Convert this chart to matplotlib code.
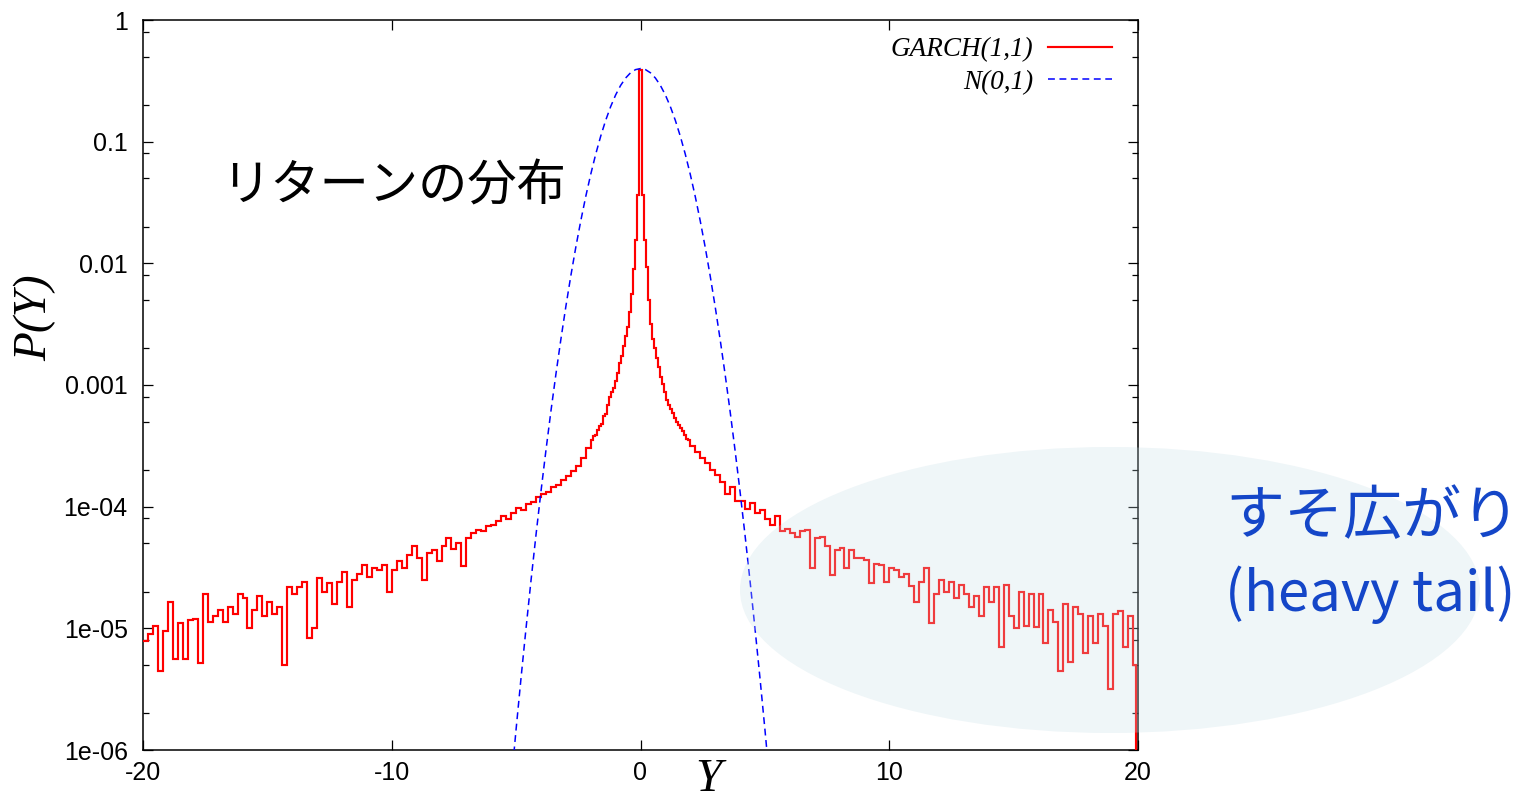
import numpy as np
import matplotlib
matplotlib.use("Agg")
import matplotlib.pyplot as plt
from matplotlib import ticker
from matplotlib.patches import Ellipse

plt.rcParams['font.family'] = ['Liberation Sans', 'DejaVu Sans']
plt.rcParams['axes.unicode_minus'] = False

# ---------------- data ----------------
# GARCH(1,1) histogram: bin edges (tails 0.2 wide, core 0.08 wide)
left_tail_edges = np.round(np.linspace(-20.0, -2.0, 91), 3)
core_edges = np.round(np.linspace(-2.0, 2.0, 51), 3)
right_tail_edges = np.round(np.concatenate([np.linspace(2.0, 19.8, 90), [19.9, 20.0]]), 3)

left_tail_p = [
    7.9e-6, 8.9e-6, 1.05e-5, 4.5e-6, 9.5e-6,
    1.66e-5, 5.6e-6, 1.1e-5, 5.6e-6, 1.17e-5,
    1.2e-5, 5.2e-6, 1.9e-5, 1.12e-5, 1.26e-5,
    1.41e-5, 1.12e-5, 1.51e-5, 1.32e-5, 1.9e-5,
    1.78e-5, 1.0e-5, 1.41e-5, 1.86e-5, 1.26e-5,
    1.66e-5, 1.32e-5, 1.51e-5, 5.0e-6, 2.19e-5,
    1.9e-5, 2.19e-5, 2.4e-5, 8.3e-6, 1.0e-5,
    2.57e-5, 2.0e-5, 2.34e-5, 1.58e-5, 2.4e-5,
    2.88e-5, 1.51e-5, 2.51e-5, 2.82e-5, 3.31e-5,
    2.63e-5, 3.16e-5, 3.02e-5, 3.31e-5, 2.0e-5,
    3.02e-5, 3.55e-5, 3.16e-5, 3.98e-5, 4.79e-5,
    3.8e-5, 2.51e-5, 4.17e-5, 4.37e-5, 3.55e-5,
    4.79e-5, 5.5e-5, 4.47e-5, 5.0e-5, 3.24e-5,
    5.5e-5, 6.03e-5, 6.46e-5, 6.31e-5, 6.92e-5,
    7.08e-5, 7.59e-5, 8.32e-5, 7.94e-5, 8.91e-5,
    9.77e-5, 9.33e-5, 1.05e-4, 1.1e-4, 1.2e-4,
    1.26e-4, 1.32e-4, 1.45e-4, 1.51e-4, 1.66e-4,
    1.78e-4, 1.95e-4, 2.14e-4, 2.51e-4, 3.02e-4,
]
core_p = [
    3.55e-4, 3.8e-4, 3.9e-4, 4.27e-4, 4.57e-4, 4.8e-4, 5.6e-4, 5.8e-4, 6.8e-4, 7.9e-4,
    8.7e-4, 9.5e-4, 1.07e-3, 1.26e-3, 1.51e-3, 1.74e-3, 2.09e-3, 2.51e-3, 3.02e-3, 3.98e-3,
    5.6e-3, 8.9e-3, 1.55e-2, 3.63e-2, 0.389,
    0.389, 3.63e-2, 1.55e-2, 9.3e-3, 5.0e-3, 3.16e-3, 2.4e-3, 2.0e-3, 1.66e-3, 1.41e-3,
    1.17e-3, 1.02e-3, 8.7e-4, 7.6e-4, 6.9e-4, 6.3e-4, 5.9e-4, 5.4e-4, 5.0e-4, 4.7e-4,
    4.4e-4, 4.2e-4, 3.9e-4, 3.6e-4, 3.5e-4,
]
right_tail_p = [
    3.16e-4, 2.82e-4, 2.51e-4, 2.29e-4, 2.0e-4,
    1.82e-4, 1.58e-4, 1.26e-4, 1.45e-4, 1.12e-4,
    1.12e-4, 9.55e-5, 1.07e-4, 8.91e-5, 9.33e-5,
    7.94e-5, 7.08e-5, 8.32e-5, 6.31e-5, 6.61e-5,
    6.03e-5, 5.62e-5, 6.31e-5, 6.46e-5, 3.16e-5,
    5.5e-5, 5.62e-5, 4.79e-5, 2.75e-5, 4.37e-5,
    4.57e-5, 3.16e-5, 4.37e-5, 3.8e-5, 3.8e-5,
    3.63e-5, 2.34e-5, 3.39e-5, 3.31e-5, 2.4e-5,
    3.16e-5, 3.02e-5, 2.63e-5, 2.82e-5, 2.24e-5,
    1.66e-5, 2.4e-5, 3.16e-5, 1.1e-5, 1.9e-5,
    2.51e-5, 2.0e-5, 2.4e-5, 1.78e-5, 2.29e-5,
    1.9e-5, 1.51e-5, 1.86e-5, 1.26e-5, 2.19e-5,
    1.66e-5, 2.19e-5, 7.08e-6, 2.29e-5, 1.26e-5,
    1.0e-5, 2.0e-5, 1.05e-5, 1.9e-5, 1.02e-5,
    1.9e-5, 7.59e-6, 1.41e-5, 1.12e-5, 4.47e-6,
    1.58e-5, 5.25e-6, 1.51e-5, 1.32e-5, 6.31e-6,
    1.26e-5, 7.59e-6, 1.32e-5, 1.05e-5, 3.16e-6,
    1.32e-5, 1.38e-5, 7.08e-6, 1.26e-5,
    5.0e-6, 0.0,
]

# N(0,1) density sampled along Y
normal_y = [-5.4, -5.2, -5.0, -4.8, -4.6, -4.4, -4.2, -4.0, -3.8, -3.6, -3.4, -3.2, -3.0,
            -2.8, -2.6, -2.4, -2.2, -2.0, -1.8, -1.6, -1.4, -1.2, -1.0, -0.8, -0.6, -0.4,
            -0.2, 0.0, 0.2, 0.4, 0.6, 0.8, 1.0, 1.2, 1.4, 1.6, 1.8, 2.0, 2.2, 2.4, 2.6,
            2.8, 3.0, 3.2, 3.4, 3.6, 3.8, 4.0, 4.2, 4.4, 4.6, 4.8, 5.0, 5.2, 5.4]
normal_p = [1.86e-7, 5.36e-7, 1.49e-6, 3.96e-6, 1.01e-5, 2.49e-5, 5.89e-5, 1.34e-4,
            2.92e-4, 6.12e-4, 1.23e-3, 2.38e-3, 4.43e-3, 7.92e-3, 1.36e-2, 2.24e-2,
            3.55e-2, 5.40e-2, 7.90e-2, 0.1109, 0.1497, 0.1942, 0.2420, 0.2897, 0.3332,
            0.3683, 0.3910, 0.3989, 0.3910, 0.3683, 0.3332, 0.2897, 0.2420, 0.1942,
            0.1497, 0.1109, 7.90e-2, 5.40e-2, 3.55e-2, 2.24e-2, 1.36e-2, 7.92e-3,
            4.43e-3, 2.38e-3, 1.23e-3, 6.12e-4, 2.92e-4, 1.34e-4, 5.89e-5, 2.49e-5,
            1.01e-5, 3.96e-6, 1.49e-6, 5.36e-7, 1.86e-7]

x_ticks = [-20, -10, 0, 10, 20]
y_ticks = [1e-6, 1e-5, 1e-4, 1e-3, 1e-2, 1e-1, 1]
y_tick_labels = ["1e-06", "1e-05", "1e-04", "0.001", "0.01", "0.1", "1"]

garch_edges = np.concatenate([left_tail_edges, core_edges[1:], right_tail_edges[1:]])
garch_p = np.array(left_tail_p + core_p + right_tail_p)

# ---------------- figure ----------------
W, H = 1522, 798
fig = plt.figure(figsize=(W / 100, H / 100), dpi=100)
ax = fig.add_axes([143 / W, 1 - 750 / H, (1138 - 143) / W, (750 - 20) / H])

ax.set_yscale('log')
ax.stairs(garch_p, garch_edges, baseline=None, color='#ff0000', lw=1.55,
          label='GARCH(1,1)', zorder=3)
ax.plot(normal_y, normal_p, color='#0000ff', lw=1.1, dashes=(4.5, 3), label='N(0,1)', zorder=3)

ax.set_xlim(-20, 20)
ax.set_ylim(1e-6, 1)
ax.xaxis.set_major_locator(ticker.FixedLocator(x_ticks))
ax.xaxis.set_major_formatter(ticker.FixedFormatter([str(t) for t in x_ticks]))
ax.yaxis.set_major_locator(ticker.FixedLocator(y_ticks))
ax.yaxis.set_major_formatter(ticker.FixedFormatter(y_tick_labels))
ax.yaxis.set_minor_locator(ticker.LogLocator(base=10, subs=(2, 5, 8), numticks=50))
ax.yaxis.set_minor_formatter(ticker.NullFormatter())

ax.tick_params(axis='both', which='major', direction='in', length=7.5, width=0.9,
               top=True, right=True, labelsize=18, colors='black')
ax.tick_params(axis='x', which='major', pad=8)
ax.tick_params(axis='y', which='major', pad=11)
ax.tick_params(axis='y', which='minor', direction='in', length=4.5, width=0.9, right=True)
for s in ax.spines.values():
    s.set_linewidth(1.1)

leg = ax.legend(loc='upper right', bbox_to_anchor=(0.9803, 0.9855), frameon=False,
                markerfirst=False,
                prop={'family': 'Liberation Serif', 'style': 'italic', 'size': 19.5},
                handlelength=2.35, handletextpad=0.55, labelspacing=0.27,
                borderaxespad=0.0, borderpad=0.25)

# axis labels
fig.text(35 / W, 1 - 318 / H, 'P(Y)', rotation=90, ha='center', va='center',
         family='Liberation Serif', style='italic', fontsize=34)
fig.text(708 / W, 1 - 791 / H, 'Y', ha='center', va='baseline',
         family='Liberation Serif', style='italic', fontsize=34)

# annotations
fig.text(221 / W, 1 - 187 / H, 'リターンの分布', ha='left', va='center',
         family=['Noto Sans CJK JP', 'DejaVu Sans'], fontsize=35.5, color='black')

ell = Ellipse((1110 / W, 1 - 590 / H), 740 / W, 286 / H, transform=fig.transFigure,
              facecolor='#c4dee6', edgecolor='none', alpha=0.27, zorder=10)
fig.patches.append(ell)

blue_txt = '#1446c8'
fig.text(1225 / W, 1 - 518 / H, 'すそ広がり', ha='left', va='center',
         family=['Noto Sans CJK JP', 'DejaVu Sans'], fontsize=42.5, color=blue_txt, zorder=11)
fig.text(1225 / W, 1 - 595 / H, '(heavy tail)', ha='left', va='center',
         family=['Noto Sans CJK JP', 'DejaVu Sans'], fontsize=40.5, color=blue_txt, zorder=11)

fig.savefig('out.png', dpi=100)
